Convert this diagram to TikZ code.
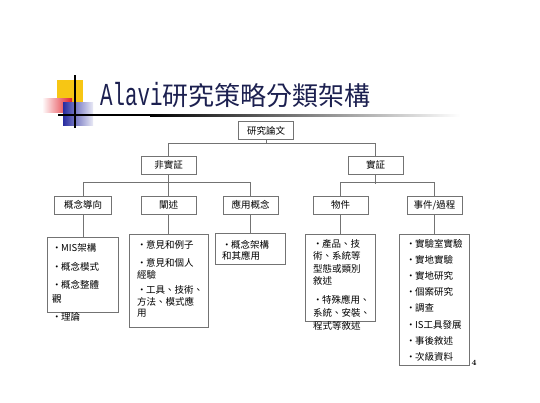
\documentclass[tikz,border=0pt]{standalone}
\usepackage{fontspec}
\newfontfamily\cjk{Noto Sans CJK TC}
\newfontfamily\titlelat[FakeStretch=0.65]{Liberation Mono}
\definecolor{linegray}{RGB}{115,115,115}
\definecolor{titleblue}{RGB}{28,32,80}
\definecolor{logoyellow}{RGB}{247,198,20}
\definecolor{logored}{RGB}{225,30,40}
\definecolor{logoblue}{RGB}{40,44,160}
\newcommand\bul{\makebox[9pt][l]{•}}
\begin{document}
\begin{tikzpicture}[x=1pt,y=-1pt,
  box/.style={draw=linegray, line width=0.9pt, fill=white, inner sep=0pt,
    minimum height=18pt, minimum width=55pt, font=\cjk\fontsize{9.5}{10}\selectfont},
  bbox/.style={draw=linegray, line width=0.9pt, inner sep=0pt},
  conn/.style={draw=linegray, line width=0.9pt},
  txt/.style={anchor=west, inner sep=0pt, font=\cjk\fontsize{9.5}{11}\selectfont}]
\useasboundingbox (0,0) rectangle (540,402);
\fill[white] (0,0) rectangle (540,402);
% logo
\fill[logoyellow] (57,80) rectangle (83,102);
\shade[left color=white, right color=logored] (42,98) rectangle (72,112);
\shade[left color=logoblue, right color=logoblue!10] (63,102) rectangle (93,125);
\shade[left color=black, right color=white] (150,114) rectangle (460,116);
\fill[black] (58,114) rectangle (150,116);
\draw[black, line width=1.2pt] (75,75) -- (75,128);
% title
\node[anchor=base west, inner sep=0pt, text=titleblue] (title) at (100,105)
  {{\titlelat\fontsize{32}{32}\selectfont Alavi}{\cjk\fontsize{26}{26}\selectfont 研究策略分類架構}};
% tree boxes
\node[box] (T) at (266,130.5) {研究論文};
\node[box] (N1) at (168.5,165) {非實証};
\node[box] (N2) at (375.5,165) {實証};
\node[box, minimum width=57pt] (A) at (83,205) {概念導向};
\node[box] (B) at (168.5,205) {闡述};
\node[box] (C) at (250.5,205) {應用概念};
\node[box] (D) at (340.5,205) {物件};
\node[box] (E) at (434.5,205) {事件/過程};
% bullet boxes
\node[bbox, minimum width=71pt, minimum height=75pt] (Ab) at (83,274.5) {};
\node[bbox, minimum width=79pt, minimum height=93pt] (Bb) at (168.5,280.5) {};
\node[bbox, minimum width=70pt, minimum height=31pt] (Cb) at (250.5,248.5) {};
\node[bbox, minimum width=70pt, minimum height=87pt] (Db) at (340.5,277.5) {};
\node[bbox, minimum width=70pt, minimum height=131pt] (Eb) at (434.5,299.5) {};
% connectors
\coordinate (j1) at (266,144);
\coordinate (j2) at (375.5,183.5);
\draw[conn] (T.south) -- (j1);
\draw[conn] (N1.north) -- ++(0,-12) -| (N2.north);
\draw[conn] (N1.south) -- (B.north);
\draw[conn] (N2.south) -- (j2);
\draw[conn] (A.north) -- ++(0,-13) -| (C.north);
\draw[conn] (D.north) -- ++(0,-13) -| (E.north);
\draw[conn] (A.south) -- (Ab.north);
\draw[conn] (B.south) -- (Bb.north);
\draw[conn] (C.south) -- (Cb.north);
\draw[conn] (D.south) -- (Db.north);
\draw[conn] (E.south) -- (Eb.north);
% texts in Ab
\node[txt] (a1) at (52,248) {\bul MIS架構};
\node[txt] (a2) at (52,267) {\bul 概念模式};
\node[txt] (a3) at (52,285) {\bul 概念整體};
\node[txt] (a4) at (52,299) {觀};
\node[txt] (a5) at (52,317) {\bul 理論};
% texts in Bb
\node[txt] (b1) at (137,245) {\bul 意見和例子};
\node[txt] (b2) at (137,263) {\bul 意見和個人};
\node[txt] (b3) at (137,275) {經驗};
\node[txt] (b4) at (137,290) {\bul 工具、技術、};
\node[txt] (b5) at (137,302) {方法、模式應};
\node[txt] (b6) at (137,313) {用};
% texts in Cb
\node[txt] (c1) at (222,245) {\bul 概念架構};
\node[txt] (c2) at (222,256) {和其應用};
% texts in Db
\node[txt] (d1) at (313,244) {\bul 產品、技};
\node[txt] (d2) at (313,256) {術、系統等};
\node[txt] (d3) at (313,269) {型態或類別};
\node[txt] (d4) at (313,281) {敘述};
\node[txt] (d5) at (313,300) {\bul 特殊應用、};
\node[txt] (d6) at (313,313) {系統、安裝、};
\node[txt] (d7) at (313,326) {程式等敘述};
% texts in Eb
\node[txt] (e1) at (406,244) {\bul 實驗室實驗};
\node[txt] (e2) at (406,260) {\bul 實地實驗};
\node[txt] (e3) at (406,276) {\bul 實地研究};
\node[txt] (e4) at (406,292) {\bul 個案研究};
\node[txt] (e5) at (406,308) {\bul 調查};
\node[txt] (e6) at (406,325) {\bul IS工具發展};
\node[txt] (e7) at (406,341) {\bul 事後敘述};
\node[txt] (e8) at (406,357) {\bul 次級資料};
% page number
\node[inner sep=0pt, font=\bfseries\fontsize{8}{8}\selectfont] (pg) at (474,363) {4};
\end{tikzpicture}
\end{document}
